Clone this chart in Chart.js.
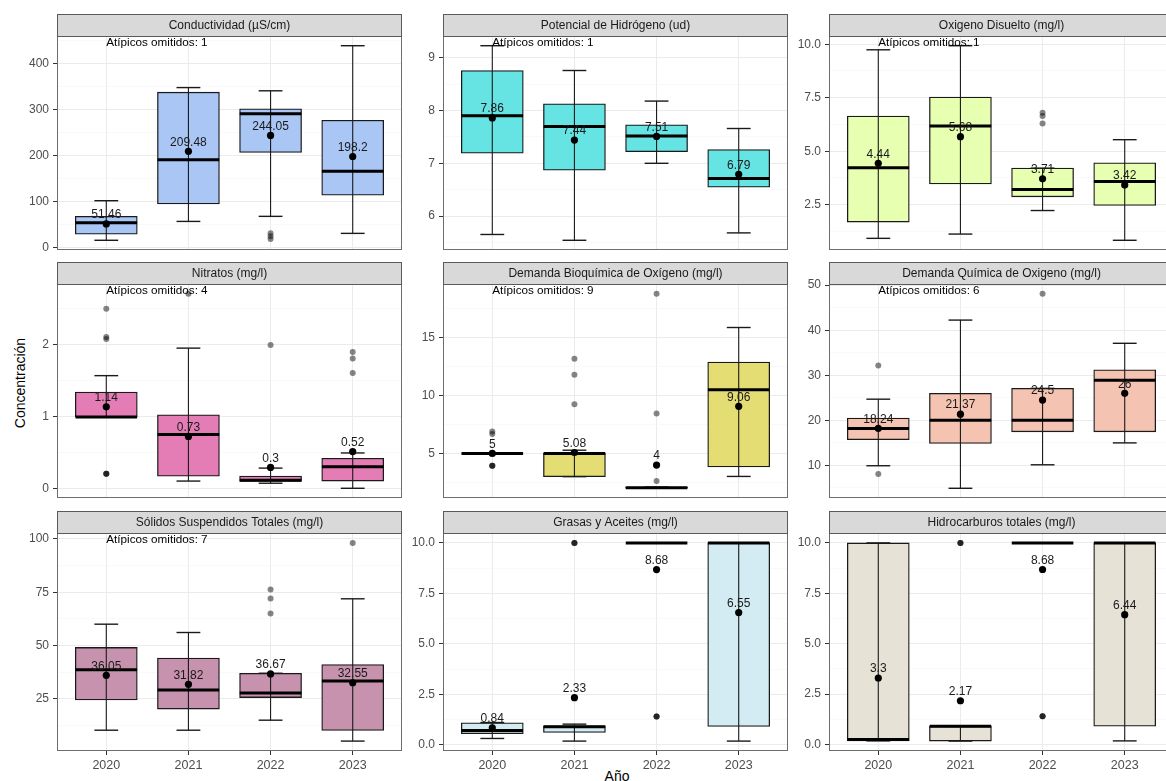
<!DOCTYPE html>
<html lang="es">
<head>
<meta charset="utf-8">
<title>Concentración por año</title>
<script src="https://cdn.jsdelivr.net/npm/chart.js@4.4.1/dist/chart.umd.min.js"></script>
<style>
  html, body { margin: 0; padding: 0; background: #fff; }
  body { width: 1166px; height: 781px; overflow: hidden; position: relative;
         font-family: 'Liberation Sans', Arial, Helvetica, sans-serif; }
  canvas { position: absolute; }
  .axis-title { position: absolute; font-size: 14px; color: #000; white-space: nowrap; }
  #ytitle { left: 20px; top: 383px; transform: translate(-50%, -50%) rotate(-90deg); }
  #xtitle { left: 617px; top: 776px; transform: translate(-50%, -50%); }
</style>
</head>
<body>
<div id="ytitle" class="axis-title">Concentración</div>
<div id="xtitle" class="axis-title">Año</div>
<script>
// ---- Categories --------------------------------------------------------
const years = ['2020', '2021', '2022', '2023'];

const panelTitles = [
  'Conductividad (µS/cm)',
  'Potencial de Hidrógeno (ud)',
  'Oxigeno Disuelto (mg/l)',
  'Nitratos (mg/l)',
  'Demanda Bioquímica de Oxígeno (mg/l)',
  'Demanda Química de Oxigeno (mg/l)',
  'Sólidos Suspendidos Totales (mg/l)',
  'Grasas y Aceites (mg/l)',
  'Hidrocarburos totales (mg/l)'
];
const omittedCounts = [1, 1, 1, 4, 9, 6, 7, null, null];

// ---- Conductividad -----------------------------------------------------
const condLow  = [16, 57, 68, 31];
const condQ1   = [29, 95, 207, 114];
const condMed  = [54, 191, 291, 166];
const condQ3   = [68, 338, 302, 277];
const condHigh = [102, 348, 341, 439];
const condMean = [51.46, 209.48, 244.05, 198.2];
const condOut  = [[], [], [31, 25, 19], []];
const condTicks = ['0', '100', '200', '300', '400'];

// ---- pH ----------------------------------------------------------------
const phLow  = [5.65, 5.54, 7.0, 5.68];
const phQ1   = [7.19, 6.87, 7.22, 6.545];
const phMed  = [7.9, 7.7, 7.52, 6.71];
const phQ3   = [8.76, 8.13, 7.73, 7.26];
const phHigh = [9.23, 8.76, 8.18, 7.66];
const phMean = [7.86, 7.44, 7.51, 6.79];
const phOut  = [[], [], [], []];
const phTicks = ['6', '7', '8', '9'];

// ---- Oxígeno disuelto --------------------------------------------------
const odLow  = [0.93, 1.13, 2.23, 0.84];
const odQ1   = [1.69, 3.47, 2.87, 2.47];
const odMed  = [4.23, 6.18, 3.21, 3.59];
const odQ3   = [6.64, 7.53, 4.21, 4.46];
const odHigh = [9.74, 9.93, 4.21, 5.54];
const odMean = [4.44, 5.68, 3.71, 3.42];
const odOut  = [[], [], [6.8, 6.65, 6.3], []];
const odTicks = ['2.5', '5.0', '7.5', '10.0'];

// ---- Nitratos ----------------------------------------------------------
const no3Low  = [1.0, 0.11, 0.08, 0.01];
const no3Q1   = [1.0, 0.177, 0.105, 0.11];
const no3Med  = [1.0, 0.755, 0.12, 0.31];
const no3Q3   = [1.345, 1.03, 0.18, 0.427];
const no3High = [1.573, 1.955, 0.29, 0.5];
const no3Mean = [1.14, 0.73, 0.3, 0.52];
const no3Out  = [[2.5, 2.11, 2.08, 0.21, 0.21, 0.21], [2.71], [2.0], [1.9, 1.81, 1.61]];
const no3Ticks = ['0', '1', '2'];

// ---- DBO ---------------------------------------------------------------
const dboLow  = [5, 3.0, 2.0, 3.02];
const dboQ1   = [5, 3.0, 2.0, 3.84];
const dboMed  = [5, 5.0, 2.05, 10.48];
const dboQ3   = [5, 5.0, 2.1, 12.88];
const dboHigh = [5, 5.28, 2.1, 15.85];
const dboMean = [5, 5.08, 4, 9.06];
const dboOut  = [[6.89, 6.67, 3.93, 3.93, 3.93], [13.16, 11.78, 9.24], [2.63, 8.45, 18.76], []];
const dboTicks = ['5', '10', '15'];

// ---- DQO ---------------------------------------------------------------
const dqoLow  = [9.93, 4.93, 10.14, 15.0];
const dqoQ1   = [15.7, 14.86, 17.46, 17.46];
const dqoMed  = [18.2, 20.0, 20.0, 28.9];
const dqoQ3   = [20.5, 26.0, 27.1, 31.2];
const dqoHigh = [24.7, 42.25, 27.1, 37.1];
const dqoMean = [18.24, 21.37, 24.5, 26];
const dqoOut  = [[32.2, 8.1], [], [48.1], []];
const dqoTicks = ['10', '20', '30', '40', '50'];

// ---- Sólidos suspendidos -----------------------------------------------
const sstLow  = [10.3, 10.3, 15.0, 5.2];
const sstQ1   = [24.5, 20.2, 25.6, 10.2];
const sstMed  = [38.6, 29.1, 27.8, 33.4];
const sstQ3   = [49.1, 44.1, 37.0, 41.1];
const sstHigh = [60.0, 56.1, 37.0, 71.9];
const sstMean = [36.05, 31.82, 36.67, 32.55];
const sstOut  = [[], [], [76.25, 72.0, 65.0], [98.1]];
const sstTicks = ['25', '50', '75', '100'];

// ---- Grasas y aceites --------------------------------------------------
const gyaLow  = [0.31, 0.18, 10, 0.18];
const gyaQ1   = [0.545, 0.61, 10, 0.91];
const gyaMed  = [0.71, 0.89, 10, 10];
const gyaQ3   = [1.09, 0.94, 10, 10];
const gyaHigh = [1.1, 1.02, 10, 10];
const gyaMean = [0.84, 2.33, 8.68, 6.55];
const gyaOut  = [[], [10, 10, 10], [1.4, 1.4, 1.4], []];
const gyaTicks = ['0.0', '2.5', '5.0', '7.5', '10.0'];

// ---- Hidrocarburos totales ---------------------------------------------
const hctLow  = [0.18, 0.17, 10, 0.18];
const hctQ1   = [0.18, 0.17, 10, 0.91];
const hctMed  = [0.25, 0.9, 10, 10];
const hctQ3   = [10, 0.9, 10, 10];
const hctHigh = [10, 0.9, 10, 10];
const hctMean = [3.3, 2.17, 8.68, 6.44];
const hctOut  = [[], [10, 10, 10], [1.4, 1.4, 1.4], []];
const hctTicks = ['0.0', '2.5', '5.0', '7.5', '10.0'];

const boxFills = ['#a9c6f5', '#66e3e3', '#e7ffb0', '#e47db5', '#e3dd74',
                  '#f5c3b1', '#c792ad', '#d3ebf2', '#e6e2d5'];

const panels = [
  [condLow, condQ1, condMed, condQ3, condHigh, condMean, condOut, condTicks],
  [phLow, phQ1, phMed, phQ3, phHigh, phMean, phOut, phTicks],
  [odLow, odQ1, odMed, odQ3, odHigh, odMean, odOut, odTicks],
  [no3Low, no3Q1, no3Med, no3Q3, no3High, no3Mean, no3Out, no3Ticks],
  [dboLow, dboQ1, dboMed, dboQ3, dboHigh, dboMean, dboOut, dboTicks],
  [dqoLow, dqoQ1, dqoMed, dqoQ3, dqoHigh, dqoMean, dqoOut, dqoTicks],
  [sstLow, sstQ1, sstMed, sstQ3, sstHigh, sstMean, sstOut, sstTicks],
  [gyaLow, gyaQ1, gyaMed, gyaQ3, gyaHigh, gyaMean, gyaOut, gyaTicks],
  [hctLow, hctQ1, hctMed, hctQ3, hctHigh, hctMean, hctOut, hctTicks]
].map(([low, q1, med, q3, high, mean, out, ticks], k) => ({
  title: panelTitles[k], omitted: omittedCounts[k], fill: boxFills[k],
  low, q1, med, q3, high, mean, out, ticks
}));

// ---- Layout of the facet grid ------------------------------------------
const COL_LEFT = [57, 443, 829];
const ROW_TOP = [14, 262, 511];
const STRIP_H = 22, PLOT_W = 349, PLOT_H = 218, Y_AXIS_W = 50, X_AXIS_H = 30;
const FONT = "'Liberation Sans', Arial, Helvetica, sans-serif";

Chart.defaults.font.family = FONT;

// Whiskers, medians, mean labels, strip and panel frame
const boxplotExtras = {
  id: 'boxplotExtras',
  afterDatasetDraw(chart, args, opts) {
    if (args.index !== 0) return;
    const p = opts.panel;
    const { ctx, scales: { x, y } } = chart;
    const unit = x.getPixelForValue(2) - x.getPixelForValue(1);
    const boxHalf = unit * 0.375, capHalf = unit * 0.145;
    ctx.save();
    ctx.strokeStyle = '#1a1a1a';
    p.low.forEach((lo, i) => {
      const cx = x.getPixelForValue(i + 1);
      const yLo = y.getPixelForValue(lo), yHi = y.getPixelForValue(p.high[i]);
      ctx.lineWidth = 1.1;
      ctx.beginPath(); ctx.moveTo(cx, yLo); ctx.lineTo(cx, yHi); ctx.stroke();
      ctx.lineWidth = 1.4;
      [yLo, yHi].forEach(yy => {
        ctx.beginPath(); ctx.moveTo(cx - capHalf, yy); ctx.lineTo(cx + capHalf, yy); ctx.stroke();
      });
      const yMed = y.getPixelForValue(p.med[i]);
      ctx.strokeStyle = '#000';
      ctx.lineWidth = 3;
      ctx.beginPath(); ctx.moveTo(cx - boxHalf, yMed); ctx.lineTo(cx + boxHalf, yMed); ctx.stroke();
      ctx.strokeStyle = '#1a1a1a';
    });
    ctx.restore();
  },
  afterDatasetsDraw(chart, args, opts) {
    const p = opts.panel;
    const { ctx, chartArea: a, scales: { x, y } } = chart;
    ctx.save();
    // mean labels
    ctx.fillStyle = '#1a1a1a';
    ctx.font = `12px ${FONT}`;
    ctx.textAlign = 'center';
    ctx.textBaseline = 'bottom';
    p.mean.forEach((m, i) => {
      ctx.fillText(String(m), x.getPixelForValue(i + 1), y.getPixelForValue(m) - 3);
    });
    // omitted-outliers note
    if (p.omitted !== null) {
      ctx.fillStyle = '#000';
      ctx.textAlign = 'left';
      ctx.textBaseline = 'middle';
      ctx.font = `11.7px ${FONT}`;
      ctx.fillText('Atípicos omitidos: ' + p.omitted, x.getPixelForValue(1), a.top + 7);
    }
    // panel frame
    ctx.strokeStyle = '#6e6e6e';
    ctx.lineWidth = 1;
    ctx.strokeRect(a.left + 0.5, a.top + 0.5, a.right - a.left - 1, a.bottom - a.top - 1);
    // strip
    const sTop = a.top - STRIP_H;
    ctx.fillStyle = '#d9d9d9';
    ctx.fillRect(a.left, sTop, a.right - a.left, STRIP_H);
    ctx.strokeStyle = '#5a5a5a';
    ctx.strokeRect(a.left + 0.5, sTop + 0.5, a.right - a.left - 1, STRIP_H);
    ctx.fillStyle = '#1a1a1a';
    ctx.font = `12px ${FONT}`;
    ctx.textAlign = 'center';
    ctx.textBaseline = 'middle';
    ctx.fillText(p.title, (a.left + a.right) / 2, sTop + STRIP_H / 2 + 0.5);
    ctx.restore();
  }
};

function yLimits(p) {
  const vals = [...p.low, ...p.high, ...p.mean, ...p.out.flat()];
  const lo = Math.min(...vals), hi = Math.max(...vals);
  const pad = (hi - lo) * 0.05;
  return [lo - pad, hi + pad];
}

function yTickObjects(p, lim) {
  const majors = p.ticks.map(Number);
  const step = majors.length > 1 ? majors[1] - majors[0] : 1;
  const list = majors.map((v, i) => ({ value: v, text: p.ticks[i] }));
  for (let i = -1; i < majors.length; i++) {
    const v = (i < 0 ? majors[0] : majors[i]) + (i < 0 ? -step / 2 : step / 2);
    if (v > lim[0] && v < lim[1]) list.push({ value: v, text: '' });
  }
  return list.sort((a, b) => a.value - b.value);
}

panels.forEach((p, k) => {
  const col = k % 3, row = Math.floor(k / 3), bottomRow = row === 2;
  const canvas = document.createElement('canvas');
  canvas.width = Y_AXIS_W + PLOT_W;
  canvas.height = STRIP_H + PLOT_H + (bottomRow ? X_AXIS_H : 0);
  canvas.style.left = (COL_LEFT[col] - Y_AXIS_W) + 'px';
  canvas.style.top = ROW_TOP[row] + 'px';
  document.body.appendChild(canvas);

  const lim = yLimits(p);
  const yTicks = yTickObjects(p, lim);
  const unitPx = PLOT_W / 4.2;

  const boxes = p.q1.map((q, i) => ({ x: i + 1, y: [q, p.q3[i]] }));
  const means = p.mean.map((m, i) => ({ x: i + 1, y: m }));
  const outliers = [];
  p.out.forEach((arr, i) => arr.forEach(v => outliers.push({ x: i + 1, y: v })));

  new Chart(canvas, {
    type: 'bar',
    data: {
      datasets: [
        {
          type: 'bar', data: boxes, order: 3,
          backgroundColor: p.fill, borderColor: '#1a1a1a', borderWidth: 1.3,
          borderSkipped: false, barThickness: Math.round(unitPx * 0.75)
        },
        {
          type: 'scatter', data: outliers, order: 2,
          pointRadius: 3, pointBackgroundColor: 'rgba(0,0,0,0.48)', pointBorderWidth: 0
        },
        {
          type: 'scatter', data: means, order: 1,
          pointRadius: 3.6, pointBackgroundColor: '#000', pointBorderWidth: 0
        }
      ]
    },
    options: {
      responsive: false,
      devicePixelRatio: 1,
      animation: false,
      events: [],
      layout: { padding: { top: STRIP_H, left: 0, right: 0, bottom: 0 } },
      plugins: {
        legend: { display: false },
        tooltip: { enabled: false },
        boxplotExtras: { panel: p }
      },
      scales: {
        x: {
          type: 'linear', min: 0.4, max: 4.6, bounds: 'data', offset: false,
          afterBuildTicks: s => { s.ticks = years.map((yr, i) => ({ value: i + 1, text: yr })); },
          afterFit: s => { s.height = bottomRow ? X_AXIS_H : 0; s.paddingLeft = 0; s.paddingRight = 0; },
          ticks: {
            display: bottomRow, autoSkip: false, maxRotation: 0, padding: 3,
            color: '#4d4d4d', font: { size: 12.5 },
            callback: (v, i, t) => t[i].text
          },
          grid: { offset: false, color: '#ebebeb', lineWidth: 1, drawTicks: bottomRow, tickLength: 4, tickColor: '#333' },
          border: { display: false }
        },
        y: {
          type: 'linear', min: lim[0], max: lim[1], bounds: 'data', offset: false,
          afterBuildTicks: s => { s.ticks = yTicks.map(t => ({ ...t })); },
          afterFit: s => { s.width = Y_AXIS_W; s.paddingTop = 0; s.paddingBottom = 0; },
          ticks: {
            autoSkip: false, padding: 4, color: '#4d4d4d', font: { size: 12 },
            callback: (v, i, t) => t[i].text
          },
          grid: {
            offset: false,
            color: c => (c.tick && c.tick.text) ? '#ebebeb' : '#f5f5f5',
            lineWidth: c => (c.tick && c.tick.text) ? 1 : 0.6,
            tickLength: 4,
            tickColor: c => (c.tick && c.tick.text) ? '#333' : 'rgba(0,0,0,0)'
          },
          border: { display: false }
        }
      }
    },
    plugins: [boxplotExtras]
  });
});
</script>
</body>
</html>
